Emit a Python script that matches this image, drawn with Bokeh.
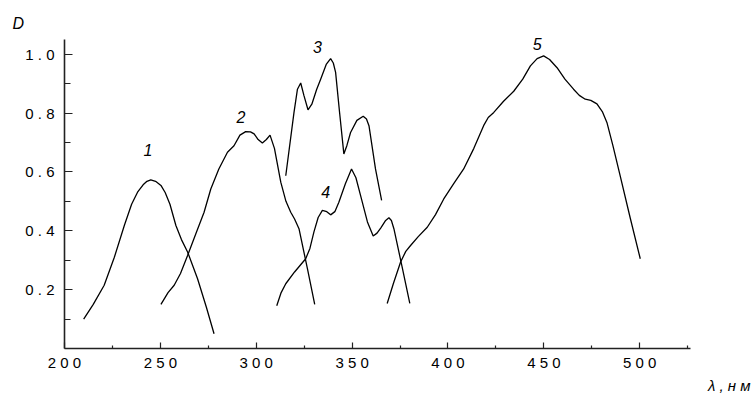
from bokeh.plotting import figure
from bokeh.models import Range1d, FixedTicker, CustomJSTickFormatter, Label, Title
from bokeh.embed import file_html
from bokeh.resources import INLINE

# Curve data (wavelength nm, optical density D)
x1 = [210, 215, 220.7, 226, 231.2, 235, 238.1, 241, 243, 245, 247.5, 250.3, 252.5, 255, 258.1, 261, 264.2, 269.4, 274, 278]
y1 = [0.10, 0.15, 0.215, 0.31, 0.418, 0.49, 0.531, 0.556, 0.568, 0.573, 0.568, 0.554, 0.53, 0.49, 0.418, 0.37, 0.328, 0.237, 0.14, 0.05]

x2 = [250.3, 254, 257.2, 260.5, 264.2, 268.5, 272.8, 276.3, 280.5, 285, 288.4, 291.5, 294.5, 297, 298.9, 301, 303.2, 305.3, 307.2, 309.5, 312.8, 315.5, 318, 320, 322.3, 326.7, 330.5]
y2 = [0.15, 0.19, 0.215, 0.255, 0.316, 0.39, 0.463, 0.542, 0.61, 0.667, 0.689, 0.725, 0.737, 0.736, 0.729, 0.71, 0.698, 0.71, 0.725, 0.68, 0.565, 0.5, 0.463, 0.44, 0.407, 0.271, 0.15]

x3 = [315.4, 319.7, 321.5, 323.2, 324.9, 327, 329, 331.5, 333.6, 336.5, 338.8, 340.2, 341.4, 343.5, 345.7, 347.3, 349.2, 352.5, 355.8, 357.5, 358.8, 362.2, 365.4]
y3 = [0.587, 0.802, 0.881, 0.902, 0.859, 0.811, 0.83, 0.88, 0.915, 0.965, 0.985, 0.97, 0.938, 0.80, 0.661, 0.69, 0.734, 0.775, 0.789, 0.78, 0.757, 0.61, 0.503]

x4 = [310.7, 313, 315.4, 320, 325.8, 328, 330.1, 332.3, 334.5, 336.8, 338.8, 341, 343.1, 346.5, 349.7, 352, 354.4, 358, 361, 363, 365, 367.5, 369.2, 370.5, 371.8, 376, 380.1]
y4 = [0.145, 0.19, 0.22, 0.26, 0.305, 0.34, 0.396, 0.445, 0.469, 0.465, 0.454, 0.465, 0.497, 0.56, 0.61, 0.58, 0.52, 0.43, 0.382, 0.392, 0.41, 0.435, 0.444, 0.435, 0.407, 0.28, 0.153]

x5 = [368.3, 371.5, 375.3, 378, 380.5, 384.5, 389.2, 393.5, 397.8, 403, 408.2, 413.5, 418.6, 421, 423.9, 429, 434.3, 439, 443, 446.5, 449.9, 453, 456.9, 461, 465.5, 468.5, 471.6, 474.5, 477.7, 480.5, 482.9, 486, 489.8, 495, 500.3]
y5 = [0.153, 0.22, 0.294, 0.33, 0.35, 0.38, 0.412, 0.455, 0.508, 0.56, 0.61, 0.68, 0.757, 0.785, 0.802, 0.84, 0.874, 0.915, 0.96, 0.985, 0.994, 0.982, 0.954, 0.915, 0.881, 0.86, 0.847, 0.843, 0.831, 0.805, 0.768, 0.69, 0.587, 0.445, 0.305]

curve_labels = ["1", "2", "3", "4", "5"]
label_x = [243.5, 292.0, 331.9, 336.2, 446.5]
label_y = [0.675, 0.786, 1.023, 0.531, 1.035]

x_major = [200, 250, 300, 350, 400, 450, 500]
x_minor = [225, 275, 325, 375, 425, 475, 525]
y_major = [0.2, 0.4, 0.6, 0.8, 1.0]
y_minor = [0.1, 0.3, 0.5, 0.7, 0.9]

FONT = "Liberation Sans"

p = figure(width=752, height=394, output_backend="svg", toolbar_location=None,
           x_range=Range1d(200, 526.5), y_range=Range1d(0, 1.06),
           min_border_left=64, min_border_right=62, min_border_top=36, min_border_bottom=42)
p.outline_line_color = None
p.xgrid.visible = False
p.ygrid.visible = False
p.background_fill_color = "white"
p.border_fill_color = "white"

for xs, ys in [(x1, y1), (x2, y2), (x3, y3), (x4, y4), (x5, y5)]:
    p.line(xs, ys, line_color="black", line_width=1.3)

xa = p.xaxis[0]
xa.ticker = FixedTicker(ticks=x_major, minor_ticks=x_minor)
xa.formatter = CustomJSTickFormatter(code="return tick.toFixed(0).split('').join(' ');")
ya = p.yaxis[0]
ya.ticker = FixedTicker(ticks=y_major, minor_ticks=y_minor)
ya.formatter = CustomJSTickFormatter(code="return tick.toFixed(1).split('').join(' ');")
ya.bounds = (0, 1.05)

for ax in (xa, ya):
    ax.axis_line_color = "#222222"
    ax.axis_line_width = 1.6
    ax.major_tick_line_color = "#222222"
    ax.minor_tick_line_color = "#222222"
    ax.major_tick_line_width = 1.2
    ax.minor_tick_line_width = 1.2
    ax.major_tick_out = 0
    ax.minor_tick_out = 0
    ax.major_label_text_font = FONT
    ax.major_label_text_font_size = "15px"
    ax.major_label_text_color = "black"

xa.major_tick_in = 6
xa.minor_tick_in = 3
xa.major_label_standoff = 5
ya.major_tick_in = 8
ya.minor_tick_in = 6
ya.major_label_standoff = 10

for t, lx, ly in zip(curve_labels, label_x, label_y):
    p.add_layout(Label(x=lx, y=ly, text=t, text_font=FONT, text_font_size="16px",
                       text_font_style="italic", text_align="center",
                       text_baseline="middle", text_color="black"))

p.title.text = "D"
p.title.align = "left"
p.title.offset = -52
p.title.text_font = FONT
p.title.text_font_size = "16px"
p.title.text_font_style = "italic"
p.title.text_color = "black"

p.add_layout(Title(text="λ , н м", align="right", offset=-60, standoff=2, text_font=FONT,
                   text_font_size="15px", text_font_style="italic",
                   text_color="black"), "below")

open("out.html", "w").write(file_html(p, INLINE))
